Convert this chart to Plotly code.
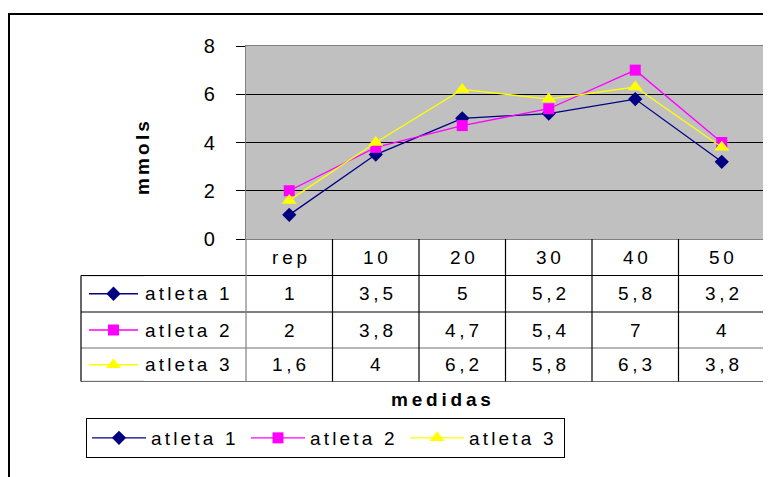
import plotly.graph_objects as go

# ---------------- data ----------------
categories = ["rep", "10", "20", "30", "40", "50"]
series_names = ["atleta 1", "atleta 2", "atleta 3"]
atleta1 = [1, 3.5, 5, 5.2, 5.8, 3.2]
atleta2 = [2, 3.8, 4.7, 5.4, 7, 4]
atleta3 = [1.6, 4, 6.2, 5.8, 6.3, 3.8]
y_ticks = [0, 2, 4, 6, 8]
x_title = "medidas"
y_title = "mmols"

series_values = [atleta1, atleta2, atleta3]
colors = ["#000080", "#FF00FF", "#FFFF00"]
symbols = ["diamond", "square", "triangle-up"]
msizes = [11, 11, 13]

W, H = 771, 477
OFF = 8  # page body margin of the browser
FONT = "Liberation Sans, Arial, sans-serif"


def px(x):
    return (x - OFF) / W


def py(y):
    return 1 - (y - OFF) / H


SP = "\u2009"
SP2 = "\u2006"


def spaced(s, sp=SP):
    return sp.join(s)


def fmt(v):
    return f"{v:g}".replace(".", ",")


# plot area in screen pixels
PX0, PX1, PY0, PY1 = 246, 765, 46, 239
ncat = len(categories)
colw = (PX1 - PX0) / ncat
row_lines = [PY1, 275.5, 312, 348, 381.5]
TABLE_LEFT = 81
KEY_X0, KEY_X1 = 89, 138
TS = 19

fig = go.Figure()

for name, vals, c, sym, ms in zip(series_names, series_values, colors, symbols, msizes):
    fig.add_trace(go.Scatter(
        x=categories, y=vals, name=spaced(name, SP2), mode="lines+markers",
        line=dict(color=c, width=1.3),
        marker=dict(symbol=sym, size=ms, color=c, line=dict(width=0)),
        xaxis="x", yaxis="y",
    ))

shapes = []
annotations = []
# outer border
shapes.append(dict(type="rect", xref="paper", yref="paper",
                   x0=px(9), x1=px(800), y0=py(14), y1=py(500),
                   line=dict(color="black", width=2)))

# table lines
for i, y in enumerate(row_lines[1:], start=1):
    col = "#000000" if i < 3 else "#707070"
    shapes.append(dict(type="line", xref="paper", yref="paper",
                       x0=px(TABLE_LEFT), x1=px(PX1), y0=py(y), y1=py(y),
                       line=dict(color=col, width=1.2)))
for k in range(ncat + 1):
    x = PX0 + k * colw
    col = "#000000" if 0 < k < ncat else "#808080"
    shapes.append(dict(type="line", xref="paper", yref="paper",
                       x0=px(x), x1=px(x), y0=py(PY1), y1=py(row_lines[-1]),
                       line=dict(color=col, width=1.2)))
shapes.append(dict(type="line", xref="paper", yref="paper",
                   x0=px(TABLE_LEFT), x1=px(TABLE_LEFT), y0=py(row_lines[1]), y1=py(row_lines[-1]),
                   line=dict(color="#000000", width=1.2)))

KX0, KX1 = KEY_X0 - 6, KEY_X1 + 6
KY0, KY1 = row_lines[1] + 1, row_lines[-1] - 1
# white background for the key subplot (plot_bgcolor is global)
shapes.append(dict(type="rect", xref="x2", yref="y2", layer="below",
                   x0=KX0, x1=KX1, y0=KY0, y1=KY1,
                   fillcolor="white", line=dict(width=0)))

tfont = dict(family=FONT, size=TS, color="black")
# header
for k, cat in enumerate(categories):
    annotations.append(dict(xref="paper", yref="paper", x=px(PX0 + (k + 0.5) * colw),
                            y=py((row_lines[0] + row_lines[1]) / 2), text=spaced(cat),
                            showarrow=False, font=tfont, xanchor="center", yanchor="middle"))
# rows
for r, (name, vals, c, sym, ms) in enumerate(zip(series_names, series_values, colors, symbols, msizes)):
    yc = (row_lines[r + 1] + row_lines[r + 2]) / 2
    for k, v in enumerate(vals):
        annotations.append(dict(xref="paper", yref="paper", x=px(PX0 + (k + 0.5) * colw),
                                y=py(yc), text=spaced(fmt(v)),
                                showarrow=False, font=tfont, xanchor="center", yanchor="middle"))
    annotations.append(dict(xref="paper", yref="paper", x=px(143), y=py(yc),
                            text=spaced(name, SP2), showarrow=False, font=tfont,
                            xanchor="left", yanchor="middle"))
    fig.add_trace(go.Scatter(
        x=[KEY_X0, KEY_X1], y=[yc, yc], mode="lines",
        showlegend=False, hoverinfo="skip", cliponaxis=False,
        line=dict(color=c, width=1.3),
        xaxis="x2", yaxis="y2",
    ))
    fig.add_trace(go.Scatter(
        x=[(KEY_X0 + KEY_X1) / 2], y=[yc], mode="markers",
        showlegend=False, hoverinfo="skip", cliponaxis=False,
        marker=dict(symbol=sym, size=ms, color=c, opacity=1, line=dict(width=0)),
        xaxis="x2", yaxis="y2",
    ))

# axis titles
annotations.append(dict(xref="paper", yref="paper", x=px(441), y=py(399),
                        text="<b>" + spaced(x_title) + "</b>", showarrow=False,
                        font=dict(family=FONT, size=TS, color="black"),
                        xanchor="center", yanchor="middle"))
annotations.append(dict(xref="paper", yref="paper", x=px(143), y=py(158),
                        text="<b>" + spaced(y_title, SP2) + "</b>", showarrow=False, textangle=-90,
                        font=dict(family=FONT, size=TS, color="black"),
                        xanchor="center", yanchor="middle"))

fig.update_layout(
    width=W, height=H,
    margin=dict(l=0, r=0, t=0, b=0, autoexpand=False),
    paper_bgcolor="white",
    plot_bgcolor="#C0C0C0",
    font=dict(family=FONT, color="black"),
    shapes=shapes,
    annotations=annotations,
    xaxis=dict(domain=[px(PX0), px(PX1)], type="category", range=[-0.5, ncat - 0.5],
               showticklabels=False, ticks="", showgrid=False, zeroline=False,
               showline=True, linecolor="#808080", linewidth=1.2, mirror=True),
    yaxis=dict(domain=[py(PY1), py(PY0)], range=[0, 8], tickvals=y_ticks,
               ticks="outside", ticklen=9, tickcolor="#000000", tickwidth=1,
               ticklabelstandoff=17,
               tickfont=dict(family=FONT, size=20, color="black"),
               showgrid=True, gridcolor="#000000", gridwidth=1, zeroline=False,
               showline=True, linecolor="#808080", linewidth=1.2, mirror=True),
    xaxis2=dict(domain=[px(KX0), px(KX1)], range=[KX0, KX1], visible=False,
                fixedrange=True, anchor="y2"),
    yaxis2=dict(domain=[py(KY1), py(KY0)], range=[KY1, KY0], visible=False,
                fixedrange=True, anchor="x2"),
    showlegend=True,
    legend=dict(orientation="h", x=px(86), y=py(418), xanchor="left", yanchor="top",
                bordercolor="#000000", borderwidth=1, bgcolor="white",
                font=dict(family=FONT, size=TS, color="black"),
                entrywidth=90, entrywidthmode="pixels", itemwidth=54,
                tracegroupgap=0),
)

fig.write_html("out.html")
